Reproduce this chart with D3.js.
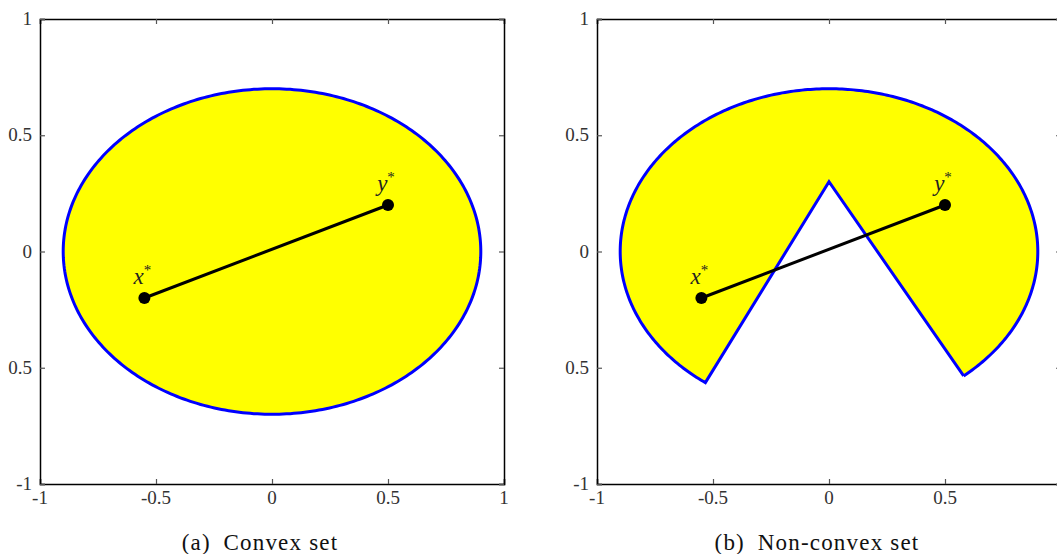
<!DOCTYPE html>
<html><head><meta charset="utf-8">
<script src="https://cdn.jsdelivr.net/npm/d3@7"></script>
<style>body{margin:0;background:#fff}svg{display:block}
text{font-family:"Liberation Serif","DejaVu Serif",serif}</style>
</head><body>
<script>
// ---- data ----
const tickValues = [-1, -0.5, 0, 0.5, 1];
const xTickLabels = ["-1", "-0.5", "0", "0.5", "1"];
const yTickLabels = ["-1", "0.5", "0", "0.5", "1"];
const ellipseRadii = [0.9, 0.7];
const ellipseCenter = [0, 0];
const pointX = [-0.55, -0.2];
const pointY = [0.5, 0.2];
const wedgeApex = [0, 0.3];
const wedgeLeft = [-0.53, -0.561];
const wedgeRight = [0.576, -0.531];
const captions = ["(a)\u2002Convex set", "(b)\u2002Non-convex set"];

const W = 1057, H = 554;
const svg = d3.select("body").append("svg").attr("width", W).attr("height", H);

const panels = [{left: 40, convex: true}, {left: 597, convex: false}];
const pw = 464, yTop = 19, yBottom = 484;

function ellipsePts(t0, t1, n) {
  const pts = [];
  for (let i = 0; i <= n; i++) {
    const t = t0 + (t1 - t0) * i / n;
    pts.push([ellipseCenter[0] + ellipseRadii[0] * Math.cos(t), ellipseCenter[1] + ellipseRadii[1] * Math.sin(t)]);
  }
  return pts;
}

panels.forEach((p, idx) => {
  const x = d3.scaleLinear().domain([-1, 1]).range([p.left, p.left + pw]);
  const y = d3.scaleLinear().domain([-1, 1]).range([yBottom, yTop]);
  const g = svg.append("g");
  const line = d3.line().x(d => x(d[0])).y(d => y(d[1]));

  let shape;
  if (p.convex) {
    shape = ellipsePts(0, 2 * Math.PI, 360);
    shape.push(shape[0]);
  } else {
    const tR = Math.atan2(wedgeRight[1] / ellipseRadii[1], wedgeRight[0] / ellipseRadii[0]);
    let tL = Math.atan2(wedgeLeft[1] / ellipseRadii[1], wedgeLeft[0] / ellipseRadii[0]);
    if (tL < tR) tL += 2 * Math.PI;
    shape = ellipsePts(tR, tL, 360);
    shape.push(wedgeApex);
    shape.push(shape[0]);
  }
  g.append("path").attr("d", line(shape)).attr("fill", "#ffff00")
    .attr("stroke", "#0000ff").attr("stroke-width", 3).attr("stroke-linejoin", "miter");

  // segment
  g.append("path").attr("d", line([pointX, pointY])).attr("stroke", "#000").attr("stroke-width", 3).attr("fill", "none");
  [pointX, pointY].forEach(pt => {
    g.append("circle").attr("cx", x(pt[0])).attr("cy", y(pt[1])).attr("r", 6).attr("fill", "#000");
  });
  const lab = [[pointX, "x"], [pointY, "y"]];
  lab.forEach(([pt, s]) => {
    const t = g.append("text").attr("x", x(pt[0]) - 2).attr("y", y(pt[1]) - 14)
      .attr("text-anchor", "middle").attr("font-size", 23).attr("fill", "#222");
    t.append("tspan").attr("font-style", "italic").text(s);
    t.append("tspan").attr("dy", -9).attr("font-size", 15).text("*");
  });

  // axes box with inward ticks
  const tickCol = "#555";
  const axB = d3.axisBottom(x).tickValues(tickValues).tickSize(-5).tickFormat("");
  const axT = d3.axisTop(x).tickValues(tickValues).tickSize(-5).tickFormat("");
  const axL = d3.axisLeft(y).tickValues(tickValues).tickSize(-5).tickFormat("");
  const axR = d3.axisRight(y).tickValues(tickValues).tickSize(-5).tickFormat("");
  [[axB, `translate(0,${yBottom})`], [axT, `translate(0,${yTop})`], [axL, `translate(${p.left},0)`], [axR, `translate(${p.left + pw},0)`]].forEach(([a, tr]) => {
    const ag = g.append("g").attr("transform", tr).call(a);
    ag.selectAll(".tick line").attr("stroke", tickCol).attr("stroke-width", 1.2);
    ag.select(".domain").attr("stroke", "#000").attr("stroke-width", 1.5);
  });

  // tick labels
  tickValues.forEach((v, i) => {
    g.append("text").attr("x", x(v)).attr("y", yBottom + 20).attr("text-anchor", "middle")
      .attr("font-size", 19).attr("fill", "#333").text(xTickLabels[i]);
    g.append("text").attr("x", p.left - 8).attr("y", y(v) + 6).attr("text-anchor", "end")
      .attr("font-size", 19).attr("fill", "#333").text(yTickLabels[i]);
  });

  g.append("text").attr("x", x(0) - 12).attr("y", 550).attr("text-anchor", "middle")
    .attr("font-size", 23).attr("letter-spacing", 1.2).attr("fill", "#111").text(captions[idx]);
});
</script>
</body></html>
